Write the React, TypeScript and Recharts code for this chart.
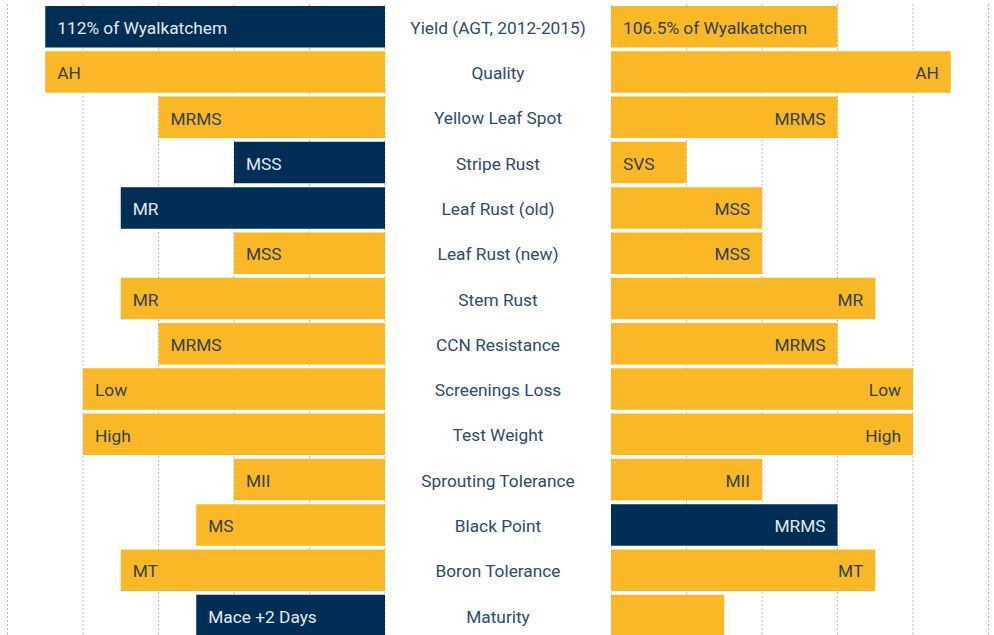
import React from 'react';
import { BarChart, Bar, XAxis, YAxis, CartesianGrid, Cell, LabelList } from 'recharts';

const categories = [
  'Yield (AGT, 2012-2015)', 'Quality', 'Yellow Leaf Spot', 'Stripe Rust', 'Leaf Rust (old)',
  'Leaf Rust (new)', 'Stem Rust', 'CCN Resistance', 'Screenings Loss', 'Test Weight',
  'Sprouting Tolerance', 'Black Point', 'Boron Tolerance', 'Maturity',
];
const leftValues = [4.5, 4.5, 3, 2, 3.5, 2, 3.5, 3, 4, 4, 2, 2.5, 3.5, 2.5];
const leftLabels = ['112% of Wyalkatchem', 'AH', 'MRMS', 'MSS', 'MR', 'MSS', 'MR', 'MRMS', 'Low', 'High', 'MII', 'MS', 'MT', 'Mace +2 Days'];
const leftHighlight = [true, false, false, true, true, false, false, false, false, false, false, false, false, true];
const rightValues = [3, 4.5, 3, 1, 2, 2, 3.5, 3, 4, 4, 2, 3, 3.5, 1.5];
const rightLabels = ['106.5% of Wyalkatchem', 'AH', 'MRMS', 'SVS', 'MSS', 'MSS', 'MR', 'MRMS', 'Low', 'High', 'MII', 'MRMS', 'MT', ''];
const rightHighlight = [false, false, false, false, false, false, false, false, false, false, false, true, false, false];
const rightAlignStart = [true, false, false, true, false, false, false, false, false, false, false, false, false, false];
const gridTicks = [1, 2, 3, 4, 5];

const NAVY = '#002E55';
const YELLOW = '#FBB826';
const FONT = 'Roboto, "Open Sans", sans-serif';
const FS = 17.3;

const leftData = categories.map((c, i) => ({ name: c, value: leftValues[i], label: leftLabels[i], hi: leftHighlight[i] }));
const rightData = categories.map((c, i) => ({ name: c, value: rightValues[i], label: rightLabels[i], hi: rightHighlight[i], start: rightAlignStart[i] }));

const CHART_H = 640;
const MARGIN_TOP = 4;
const MARGIN_BOTTOM = 2;

function makeLabel(side: 'left' | 'right') {
  return (props: any) => {
    const { x, y, width, height, index, value } = props;
    if (!value) return null;
    const x0 = Math.min(x, x + width);
    const x1 = Math.max(x, x + width);
    const row = side === 'left' ? leftData[index] : rightData[index];
    const alignStart = side === 'left' ? true : (row as any).start;
    const tx = alignStart ? x0 + 12 : x1 - 12;
    return (
      <text
        x={tx}
        y={y + height / 2}
        dy="0.42em"
        textAnchor={alignStart ? 'start' : 'end'}
        fill={row.hi ? '#E4E9EF' : '#33414E'}
        fontSize={FS}
        fontFamily={FONT}
      >
        {value}
      </text>
    );
  };
}

const MiddleTick = (props: any) => {
  const { x, y, payload } = props;
  return (
    <text x={x + 113} y={y} dy="0.42em" textAnchor="middle" fill="#2E4C6D" fontSize={FS} fontFamily={FONT}>
      {payload.value}
    </text>
  );
};

export default function App() {
  return (
    <div style={{ position: 'absolute', left: 0, top: 0, width: 994, height: CHART_H, background: '#fff' }}>
      <div style={{ position: 'absolute', left: 0, top: 0 }}>
        <BarChart
          width={611}
          height={CHART_H}
          data={leftData}
          layout="vertical"
          margin={{ top: MARGIN_TOP, bottom: MARGIN_BOTTOM, left: 7.5, right: 0 }}
        >
          <CartesianGrid horizontal={false} stroke="#BDBDBD" strokeDasharray="2 2" />
          <XAxis type="number" domain={[0, 5]} ticks={gridTicks} reversed hide />
          <YAxis
            type="category"
            dataKey="name"
            orientation="right"
            width={226}
            axisLine={false}
            tickLine={false}
            tickSize={0}
            tickMargin={0}
            interval={0}
            tick={<MiddleTick />}
          />
          <Bar dataKey="value" barSize={41.5} isAnimationActive={false}>
            {leftData.map((d, i) => (
              <Cell key={i} fill={d.hi ? NAVY : YELLOW} />
            ))}
            <LabelList dataKey="label" content={makeLabel('left')} />
          </Bar>
        </BarChart>
      </div>
      <div style={{ position: 'absolute', left: 611, top: 0 }}>
        <BarChart
          width={383}
          height={CHART_H}
          data={rightData}
          layout="vertical"
          margin={{ top: MARGIN_TOP, bottom: MARGIN_BOTTOM, left: 0, right: 5.5 }}
        >
          <CartesianGrid horizontal={false} stroke="#BDBDBD" strokeDasharray="2 2" />
          <XAxis type="number" domain={[0, 5]} ticks={gridTicks} hide />
          <YAxis type="category" dataKey="name" hide />
          <Bar dataKey="value" barSize={41.5} isAnimationActive={false}>
            {rightData.map((d, i) => (
              <Cell key={i} fill={d.hi ? NAVY : YELLOW} />
            ))}
            <LabelList dataKey="label" content={makeLabel('right')} />
          </Bar>
        </BarChart>
      </div>
    </div>
  );
}
